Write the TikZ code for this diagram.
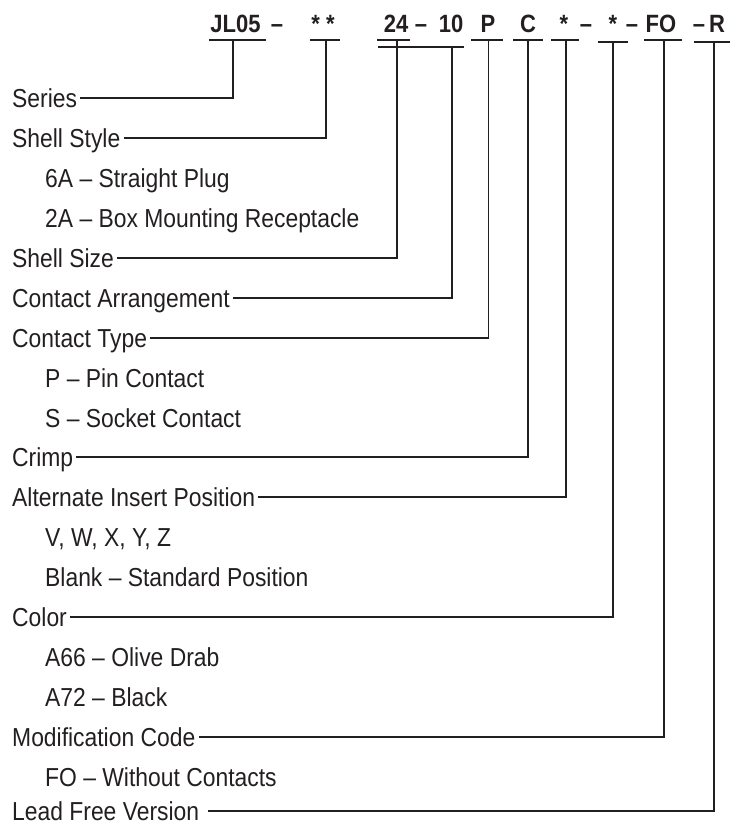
\documentclass[tikz,border=0pt]{standalone}
\usepackage{fontspec}
\setmainfont{Liberation Sans}[FakeStretch=0.88]
\definecolor{ink}{HTML}{231F20}

\begin{document}
\begin{tikzpicture}[x=1pt,y=-1pt,color=ink,font=\fontsize{26}{31}\selectfont,
    lbl/.style={anchor=west,inner xsep=3pt,inner ysep=0pt,text height=18pt,text depth=0pt},
    code/.style={anchor=base,inner sep=0pt,font=\fontsize{25}{30}\selectfont\bfseries},
    bar/.style={line width=2.6pt},
    wire/.style={line width=1.1pt}]
    \useasboundingbox (0,0) rectangle (730,825);
    % part number
    \node[code] (cJL) at (235.5,32) {JL05};  \node[code] (m1) at (277,32) {–};
    \node[code] (cSS) at (323,32) {* *};
    \node[code] (cSZ) at (396,32) {24};    \node[code] (m2) at (421,32) {–};
    \node[code] (cAR) at (451,32) {10};
    \node[code] (cP)  at (488,32) {P};
    \node[code] (cC)  at (528,32) {C};
    \node[code] (cAI) at (564,32) {*};     \node[code] (m3) at (586,32) {–};
    \node[code] (cCO) at (613,32) {*};     \node[code] (m4) at (632,32) {–};
    \node[code] (cFO) at (661,32) {FO};    \node[code] (m5) at (699,32) {–};
    \node[code] (cR)  at (717,32) {R};
    % underlines
    \draw[bar] (209,40) -- (266,40);  \coordinate (tJL) at (233,40);
    \draw[bar] (310,40) -- (340,40);  \coordinate (tSS) at (326,40);
    \draw[bar] (377,40) -- (410,40);  \coordinate (tSZ) at (397,40);
    \draw[bar] (378,47) -- (464,47);  \coordinate (tAR) at (452,47);
    \draw[bar] (471,40) -- (503,40);  \coordinate (tP)  at (488.5,40);
    \draw[bar] (513,40) -- (543,40);  \coordinate (tC)  at (528,40);
    \draw[bar] (551,40) -- (579,40);  \coordinate (tAI) at (566,40);
    \draw[bar] (598,42) -- (628,42);  \coordinate (tCO) at (613,42);
    \draw[bar] (644,40) -- (682,40);  \coordinate (tFO) at (664,40);
    \draw[bar] (694,42) -- (730,42);  \coordinate (tR)  at (714,42);
    % legend
    \node[lbl] (series) at (9,98)  {Series};
    \node[lbl] (style)  at (9,138) {Shell Style};
    \node[lbl] (s6A)    at (42,178) {6A – Straight Plug};
    \node[lbl] (s2A)    at (42,218) {2A – Box Mounting Receptacle};
    \node[lbl] (size)   at (9,258) {Shell Size};
    \node[lbl] (arr)    at (9,298) {Contact Arrangement};
    \node[lbl] (ctype)  at (9,338) {Contact Type};
    \node[lbl] (sP)     at (42,378) {P – Pin Contact};
    \node[lbl] (sS)     at (42,418) {S – Socket Contact};
    \node[lbl] (crimp)  at (9,457) {Crimp};
    \node[lbl] (alt)    at (9,497) {Alternate Insert Position};
    \node[lbl] (sVW)    at (42,537) {V, W, X, Y, Z};
    \node[lbl] (sBL)    at (42,577) {Blank – Standard Position};
    \node[lbl] (color)  at (9,617) {Color};
    \node[lbl] (sA66)   at (42,657) {A66 – Olive Drab};
    \node[lbl] (sA72)   at (42,697) {A72 – Black};
    \node[lbl] (mod)    at (9,737) {Modification Code};
    \node[lbl] (sFO)    at (42,777) {FO – Without Contacts};
    \node[lbl,inner xsep=9pt] (lead) at (3,811) {Lead Free Version};
    % leaders
    \draw[wire] (tJL) |- (series);
    \draw[wire] (tSS) |- (style);
    \draw[wire] (tSZ) |- (size);
    \draw[wire] (tAR) |- (arr);
    \draw[wire] (tP)  |- (ctype);
    \draw[wire] (tC)  |- (crimp);
    \draw[wire] (tAI) |- (alt);
    \draw[wire] (tCO) |- (color);
    \draw[wire] (tFO) |- (mod);
    \draw[wire] (tR)  |- (lead);
\end{tikzpicture}
\end{document}
